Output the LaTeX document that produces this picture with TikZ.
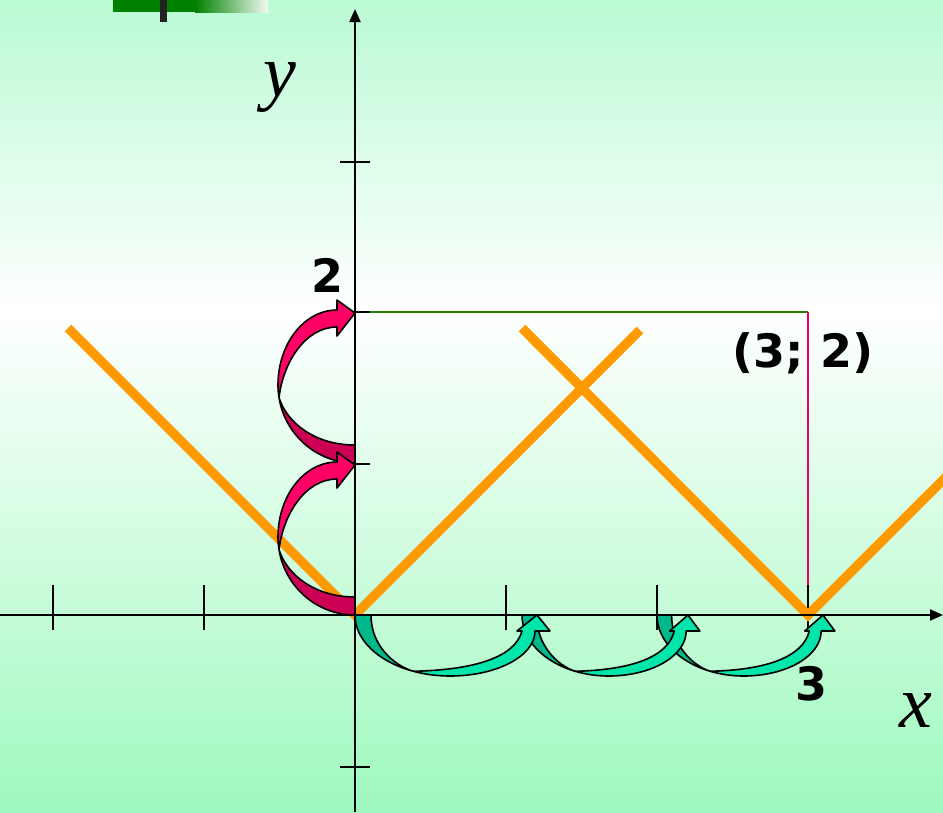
\documentclass[tikz,border=0pt]{standalone}
\usepackage{fontspec}
\usetikzlibrary{arrows.meta}
\newfontfamily\numfont{DejaVu Sans}
\newfontfamily\varfont{Liberation Serif}
\definecolor{bgtop}{RGB}{186,250,212}
\definecolor{bgbot}{RGB}{158,249,190}
\definecolor{barg}{RGB}{0,128,0}
\definecolor{barw}{RGB}{242,250,242}
\definecolor{tickc}{RGB}{34,34,34}
\definecolor{orng}{RGB}{255,153,0}
\definecolor{gline}{RGB}{40,130,0}
\definecolor{pline}{RGB}{235,0,100}
\definecolor{pinkA}{RGB}{255,0,102}
\definecolor{pinkB}{RGB}{204,0,84}
\definecolor{tealA}{RGB}{0,229,170}
\definecolor{tealB}{RGB}{0,184,138}
\tikzset{
  axisline/.style={line width=2pt, black},
  ticksty/.style={line width=2pt, black},
  orangeline/.style={line width=9.5pt, orng, line join=miter},
  arrowout/.style={draw=black, line width=1.6pt, line join=round},
  numlabel/.style={font=\numfont\bfseries\fontsize{46}{50}\selectfont, inner sep=0pt, anchor=base},
  varlabel/.style={font=\varfont\itshape\fontsize{74}{80}\selectfont, inner sep=0pt, anchor=base},
}
\newcommand\tealarrow[2]{%
  \begin{scope}[shift={#1}, x={(#2pt,0pt)}, y={(0pt,-1pt)}]
    \filldraw[arrowout, fill=tealB] (0,0) .. controls (0,25.5) and (24.19,47.06) .. (58.22,56.25)
      .. controls (38,50) and (16,30) .. (16,0) -- cycle;
    \filldraw[arrowout, fill=tealA] (58.22,56.25) .. controls (69.56,59.31) and (82,61) .. (95,61)
      .. controls (142,61) and (180,41) .. (180,16) -- (195,16) -- (182,0) -- (162,16) -- (167,16)
      .. controls (160,42) and (120,55) .. (58.22,56.25) -- cycle;
  \end{scope}}
\newcommand\pinkarrow[1]{%
  \begin{scope}[shift={#1}, x={(0pt,1pt)}, y={(-1pt,0pt)}]
    \filldraw[arrowout, fill=pinkB] (0,0) .. controls (0,38.25) and (28.35,70.02) .. (65.37,76)
      .. controls (40,68) and (18,40) .. (18,0) -- cycle;
    \filldraw[arrowout, fill=pinkA] (65.37,76) .. controls (69.48,76.66) and (73.7,77) .. (78,77)
      .. controls (119.4,77) and (153,50.6) .. (153,18) -- (163,18) -- (150,0) -- (127,18) -- (136,18)
      .. controls (136,50) and (100,72) .. (65.37,76) -- cycle;
  \end{scope}}
\begin{document}
\begin{tikzpicture}[x=1pt,y=-1pt]
\useasboundingbox (0,0) rectangle (943,812);
\clip (0,0) rectangle (943,812);
% background
\fill[top color=bgtop, bottom color=white] (0,0) rectangle (943,311);
\fill[top color=white, bottom color=bgbot] (0,310) rectangle (943,812);
% top-left bar
\fill[barg] (113,0) rectangle (196,12);
\fill[left color=barg, right color=barw] (195,0) rectangle (268,12);
\fill[tickc] (160,0) rectangle (167,22);
% coordinates
\coordinate (O) at (355,615);
\coordinate (xs) at (0,615);
\coordinate (xe) at (943,615);
\coordinate (ys) at (355,812);
\coordinate (ye) at (355,9);
\coordinate (Py) at (355,312);
\coordinate (P) at (808,312);
\coordinate (Pb) at (808,586);
% projection lines
\draw[gline, line width=2pt] (Py) -- (P);
\draw[pline, line width=1.6pt] (P) -- (Pb);
% ticks
\foreach \tx in {52.5,203.5,506,657,808} \draw[ticksty] (\tx,585) -- (\tx,630);
\foreach \ty in {162,312,464,767} \draw[ticksty] (340,\ty) -- (370,\ty);
% graph
\draw[orangeline] (68,328) -- (O) -- (640,330);
\draw[orangeline] (522,328) -- (808,615) -- (960,463);
% curved arrows
\pinkarrow{(355,463)}
\pinkarrow{(355,615)}
\tealarrow{(657,615)}{0.912}
\tealarrow{(522,615)}{0.912}
\tealarrow{(355,615)}{1}
% axes
\draw[axisline, -{Triangle[length=13pt,width=11pt]}] (xs) -- (xe);
\draw[axisline, -{Triangle[length=13pt,width=11pt]}] (ys) -- (ye);
% labels
\node[numlabel] (l2) at (328,292) {2};
\node[numlabel] (lP) at (803,367) {(3; 2)};
\node[numlabel] (l3) at (811,700) {3};
\node[varlabel] (ly) at (280,96) {y};
\node[varlabel] (lx) at (916,727) {x};
\end{tikzpicture}
\end{document}
